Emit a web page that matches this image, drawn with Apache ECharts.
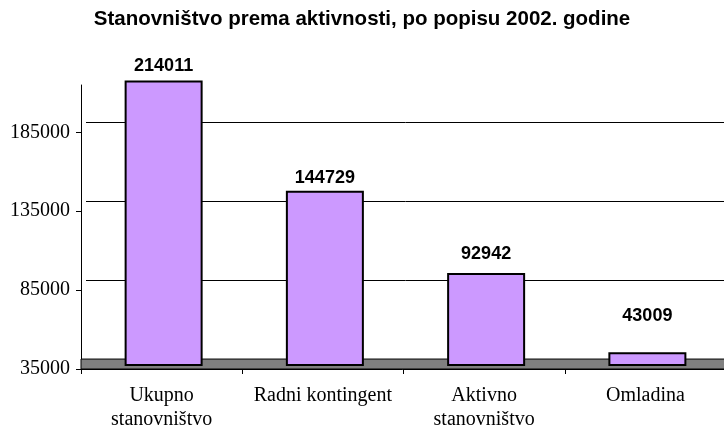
<!DOCTYPE html>
<html>
<head>
<meta charset="utf-8">
<script src="https://cdn.jsdelivr.net/npm/echarts@6/dist/echarts.min.js"></script>
<style>
  html, body { margin: 0; padding: 0; background: #fff; }
  #chart { width: 724px; height: 427px; }
</style>
</head>
<body>
<div id="chart"></div>
<script>
  const title = "Stanovništvo prema aktivnosti, po popisu 2002. godine"
  const categories = ["Ukupno\nstanovništvo", "Radni kontingent", "Aktivno\nstanovništvo", "Omladina"]
  const values = [214011, 144729, 92942, 43009]
  const yTicks = [35000, 85000, 135000, 185000]
  // label gap above each bar (Excel placed them unevenly)
  const labelGaps = [6, 4, 10, 27]

  const yMin = 35000
  const yMax = 215000

  const options = {
    animation: false,
    title: {
      text: title,
      left: "center",
      top: 4,
      textStyle: {
        fontFamily: "Liberation Sans",
        fontSize: 20.5,
        fontWeight: "bold",
        color: "#000",
      },
    },
    grid: [
      // front axes (labels, ticks, floor)
      { left: 81, right: -2, top: 85, bottom: 58, outerBoundsMode: "none" },
      // back wall with gridlines
      { left: 86, right: -7, top: 122, bottom: 68, outerBoundsMode: "none" },
      // bars, sitting mid-depth
      { left: 83, right: -4, top: 79, bottom: 62, outerBoundsMode: "none" },
    ],
    xAxis: [
      {
        gridIndex: 0,
        type: "category",
        data: categories,
        axisLine: { lineStyle: { color: "#000", width: 1 } },
        axisTick: { show: true, length: 5, lineStyle: { color: "#000" } },
        axisLabel: {
          color: "#000",
          fontFamily: "Liberation Serif",
          fontSize: 20,
          lineHeight: 24,
          margin: 15,
          interval: 0,
        },
      },
      { gridIndex: 1, type: "category", data: categories, show: false },
      { gridIndex: 2, type: "category", data: categories, show: false },
    ],
    yAxis: [
      {
        gridIndex: 0,
        type: "value",
        min: yMin,
        max: yMax,
        axisLine: { show: true, lineStyle: { color: "#000", width: 1 } },
        axisTick: { show: true, length: 5, customValues: yTicks, lineStyle: { color: "#000" } },
        axisLabel: {
          customValues: yTicks,
          formatter: (v) => String(v),
          color: "#000",
          fontFamily: "Liberation Serif",
          fontSize: 20,
          margin: 11,
        },
        splitLine: { show: false },
      },
      {
        gridIndex: 1,
        type: "value",
        min: yMin,
        max: 185000,
        interval: 50000,
        axisLine: { show: false },
        axisTick: { show: false },
        axisLabel: { show: false },
        splitLine: { show: true, lineStyle: { color: "#000", width: 1 } },
      },
      {
        gridIndex: 2,
        type: "value",
        min: yMin,
        max: yMax,
        show: false,
        splitLine: { show: false },
      },
    ],
    series: [
      {
        // floor
        type: "line",
        xAxisIndex: 0,
        yAxisIndex: 0,
        data: [],
        z: 1,
        markArea: {
          silent: true,
          itemStyle: { color: "#808080", borderColor: "#000", borderWidth: 1 },
          data: [[{ yAxis: 35000 }, { yAxis: 41300 }]],
        },
      },
      {
        type: "bar",
        xAxisIndex: 2,
        yAxisIndex: 2,
        barWidth: 78,
        z: 3,
        data: values.map((v, i) => ({
          value: v,
          label: { distance: labelGaps[i] },
        })),
        itemStyle: {
          color: "#cc99ff",
          borderColor: "#000",
          borderWidth: 2,
        },
        label: {
          show: true,
          position: "top",
          color: "#000",
          fontFamily: "Liberation Sans",
          fontWeight: "bold",
          fontSize: 18,
        },
      },
    ],
  }

  let dom = document.getElementById("chart")
  let myChart = echarts.init(dom)
  myChart.setOption(options)
  window.addEventListener("resize", () => myChart.resize(), false)
</script>
</body>
</html>
